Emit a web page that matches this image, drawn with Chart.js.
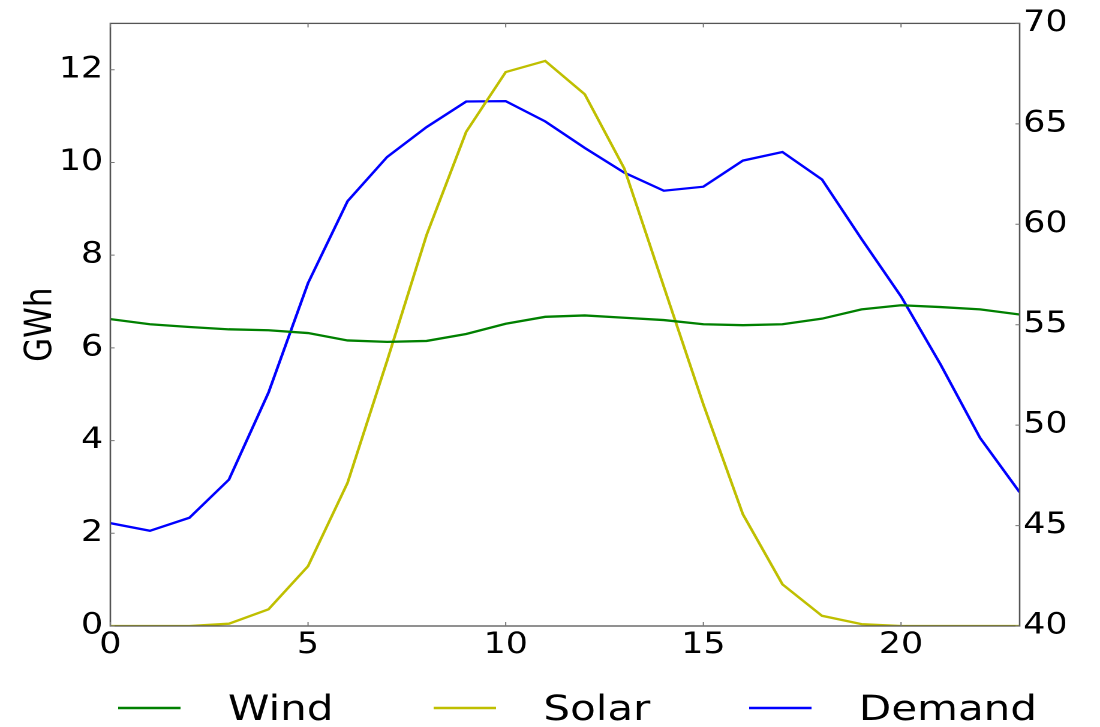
<!DOCTYPE html>
<html>
<head>
<meta charset="utf-8">
<script src="https://cdn.jsdelivr.net/npm/chart.js@4.4.1/dist/chart.umd.min.js"></script>
<style>
  html, body { margin: 0; padding: 0; background: #fff; }
</style>
</head>
<body>
<canvas id="c" width="917" height="727" style="display:block;width:1100px;height:727px"></canvas>
<script>
// Hour of day
const hours = [0, 1, 2, 3, 4, 5, 6, 7, 8, 9, 10, 11, 12, 13, 14, 15, 16, 17, 18, 19, 20, 21, 22, 23];

// Wind generation (GWh, left axis)
const wind = [6.62, 6.51, 6.45, 6.40, 6.38, 6.32, 6.16, 6.13, 6.15, 6.30, 6.52, 6.67,
              6.70, 6.65, 6.60, 6.51, 6.49, 6.51, 6.63, 6.83, 6.92, 6.88, 6.83, 6.72];

// Solar generation (GWh, left axis)
const solar = [0, 0, 0, 0.05, 0.36, 1.29, 3.09, 5.72, 8.44, 10.66, 11.95, 12.19,
               11.47, 9.87, 7.32, 4.78, 2.41, 0.90, 0.22, 0.04, 0, 0, 0, 0];

// Demand (GWh, right axis)
const demand = [45.12, 44.74, 45.39, 47.29, 51.62, 57.07, 61.15, 63.35, 64.84, 66.11, 66.13, 65.12,
                63.80, 62.57, 61.67, 61.87, 63.17, 63.60, 62.23, 59.27, 56.41, 53.02, 49.36, 46.66];

// Axis tick values
const xTicks = [0, 5, 10, 15, 20];
const leftTicks = [0, 2, 4, 6, 8, 10, 12];
const rightTicks = [40, 45, 50, 55, 60, 65, 70];

const seriesNames = ['Wind', 'Solar', 'Demand'];
const seriesColors = ['#008000', '#bfbf00', '#0000ff'];

const toPoints = vals => hours.map((h, i) => ({ x: h, y: vals[i] }));

const tickFont = { family: 'DejaVu Sans', size: 29 };

function keepTicks(list) {
  return scale => { scale.ticks = list.map(v => ({ value: v })); };
}

// Frame around the plot area plus inward-pointing tick marks on every side
const frameTicks = {
  id: 'frameTicks',
  afterDatasetsDraw(chart) {
    const { ctx, chartArea: a, scales } = chart;
    ctx.save();
    ctx.strokeStyle = '#555';
    ctx.lineWidth = 1.3;
    ctx.strokeRect(a.left, a.top, a.right - a.left, a.bottom - a.top);
    ctx.lineWidth = 1;
    ctx.strokeStyle = '#777';
    ctx.beginPath();
    xTicks.forEach(v => {
      const px = scales.x.getPixelForValue(v);
      ctx.moveTo(px, a.bottom); ctx.lineTo(px, a.bottom - 4);
      ctx.moveTo(px, a.top); ctx.lineTo(px, a.top + 4);
    });
    leftTicks.forEach(v => {
      const py = scales.y.getPixelForValue(v);
      ctx.moveTo(a.left, py); ctx.lineTo(a.left + 3.5, py);
    });
    rightTicks.forEach(v => {
      const py = scales.y2.getPixelForValue(v);
      ctx.moveTo(a.right, py); ctx.lineTo(a.right - 3.5, py);
    });
    ctx.stroke();
    ctx.restore();
  }
};

// Legend row beneath the axes: short line sample followed by the series name
const lineLegend = {
  id: 'lineLegend',
  afterDraw(chart) {
    const { ctx, chartArea } = chart;
    ctx.save();
    chart.data.datasets.forEach((ds, i) => {
      const x0 = chartArea.left + 6.5 + i * 263;
      ctx.strokeStyle = ds.borderColor;
      ctx.lineWidth = 2.5;
      ctx.beginPath();
      ctx.moveTo(x0, 708);
      ctx.lineTo(x0 + 52, 708);
      ctx.stroke();
      ctx.font = '35px "DejaVu Sans"';
      ctx.fillStyle = '#000';
      ctx.textBaseline = 'alphabetic';
      ctx.fillText(ds.label, x0 + 91.5, 720);
    });
    ctx.restore();
  }
};

new Chart(document.getElementById('c'), {
  type: 'line',
  data: {
    datasets: [
      { label: seriesNames[0], data: toPoints(wind), yAxisID: 'y' },
      { label: seriesNames[1], data: toPoints(solar), yAxisID: 'y' },
      { label: seriesNames[2], data: toPoints(demand), yAxisID: 'y2' }
    ].map((d, i) => Object.assign(d, {
      borderColor: seriesColors[i],
      backgroundColor: seriesColors[i],
      borderWidth: 2.3,
      pointRadius: 0,
      tension: 0,
      fill: false
    }))
  },
  options: {
    responsive: false,
    animation: false,
    devicePixelRatio: 2,
    layout: { padding: { top: 21, left: 0, right: 0, bottom: 0 } },
    plugins: {
      legend: { display: false },
      tooltip: { enabled: false }
    },
    scales: {
      x: {
        type: 'linear',
        min: 0,
        max: 23,
        grid: { display: false, drawTicks: false },
        border: { display: false },
        afterBuildTicks: keepTicks(xTicks),
        afterFit: s => { s.height = 101; },
        ticks: { font: tickFont, color: '#000', padding: 2, maxRotation: 0, autoSkip: false }
      },
      y: {
        position: 'left',
        min: 0,
        max: 13,
        grid: { display: false, drawTicks: false },
        border: { display: false },
        afterBuildTicks: keepTicks(leftTicks),
        afterFit: s => { s.width = 92; },
        ticks: { font: tickFont, color: '#000', padding: 6, autoSkip: false },
        title: {
          display: true,
          text: 'GWh',
          color: '#000',
          font: { family: 'DejaVu Sans', size: 31 },
          padding: { top: 16, bottom: 0 }
        }
      },
      y2: {
        position: 'right',
        min: 40,
        max: 70,
        grid: { display: false, drawTicks: false },
        border: { display: false },
        afterBuildTicks: keepTicks(rightTicks),
        afterFit: s => { s.width = 67; },
        ticks: { font: tickFont, color: '#000', padding: 3, autoSkip: false }
      }
    }
  },
  plugins: [frameTicks, lineLegend]
});
</script>
</body>
</html>
